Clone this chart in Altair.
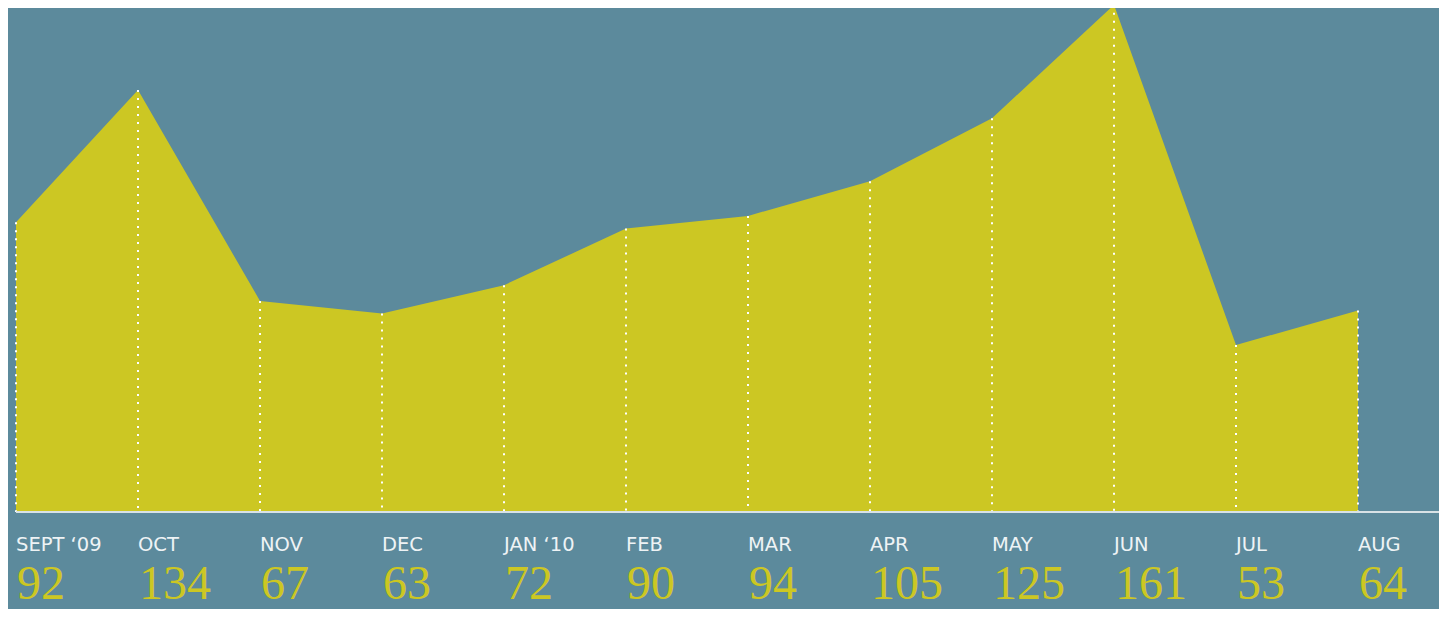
import altair as alt
import pandas as pd

months = ["SEPT \u201809", "OCT", "NOV", "DEC", "JAN \u201810", "FEB", "MAR", "APR", "MAY", "JUN", "JUL", "AUG"]
values = [92, 134, 67, 63, 72, 90, 94, 105, 125, 161, 53, 64]

df = pd.DataFrame({"idx": list(range(len(months))), "month": months, "value": values,
                   "label": [str(v) for v in values]})

W, H = 1423, 504
BG = "#5c8a9c"
YEL = "#ccc723"

x = alt.X("idx:Q", scale=alt.Scale(domain=[0, W / 122.0], nice=False, zero=False), axis=None)
y = alt.Y("value:Q", scale=alt.Scale(domain=[0, 160], nice=False), axis=None)

base = alt.Chart(df)

area = base.mark_area(color=YEL, opacity=1, interpolate="linear").encode(x=x, y=y)

dots = base.mark_rule(color="white", strokeWidth=2, strokeDash=[2, 6]).encode(
    x=x, y=y, y2=alt.datum(0)
)

baseline = base.mark_rule(color="#d8e2e6", strokeWidth=2).encode(
    x=alt.value(0), x2=alt.value(W + 10), y=alt.datum(0, scale=alt.Scale(domain=[0, 160]))
).transform_filter(alt.datum.idx == 0)

month_text = base.mark_text(
    align="left", baseline="middle", font="DejaVu Sans", fontSize=19.5, color="#eef3f5", dx=0
).encode(x=x, y=alt.value(537), text="month:N")

num_text = base.mark_text(
    align="left", baseline="alphabetic", font="Liberation Serif", fontSize=48, color=YEL, dx=1
).encode(x=x, y=alt.value(591), text="label:N")

chart = alt.layer(area, dots, baseline, month_text, num_text).properties(
    width=W, height=H,
    padding={"left": 8, "top": 0, "right": 0, "bottom": 97},
    autosize=alt.AutoSizeParams(type="none"),
    background=BG,
).configure_view(stroke=None)

chart.save("out.html", embed_options={"renderer": "svg", "actions": False})
